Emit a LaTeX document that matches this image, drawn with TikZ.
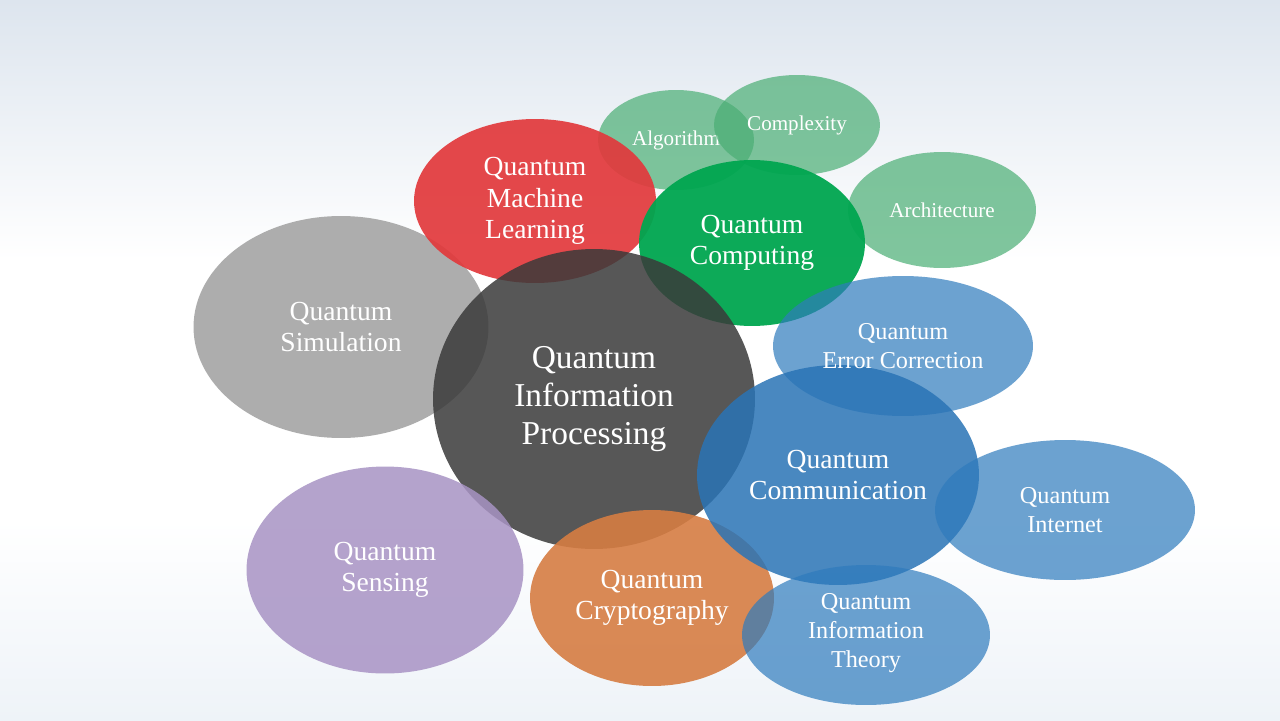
\documentclass[tikz,border=0pt]{standalone}
\usepackage{fontspec}
\setmainfont{Liberation Serif}
\usetikzlibrary{shapes.geometric}
\definecolor{bgtop}{HTML}{DDE5EE}
\definecolor{bgbot}{HTML}{EEF3F8}
\definecolor{cqip}{HTML}{3A3A3A}
\definecolor{csim}{HTML}{A9A9A9}
\definecolor{cqml}{HTML}{E2393C}
\definecolor{cqc}{HTML}{00A650}
\definecolor{clgreen}{HTML}{4AAE74}
\definecolor{clblue}{HTML}{2E7BBD}
\definecolor{ccomm}{HTML}{2A74B6}
\definecolor{ccryp}{HTML}{D67D43}
\definecolor{csens}{HTML}{A893C4}
\begin{document}
\begin{tikzpicture}[x=0.02cm,y=-0.02cm,
  bub/.style={ellipse, inner sep=0pt, text=white, align=center, text opacity=1},
  lbl/.style={inner sep=0pt, text=white, align=center},
  fbig/.style={font=\fontsize{19}{21.5}\selectfont},
  fmid/.style={font=\fontsize{15.7}{17.9}\selectfont},
  fsml/.style={font=\fontsize{13.8}{16.4}\selectfont},
  ftiny/.style={font=\fontsize{12}{14}\selectfont}]
\useasboundingbox (0,0) rectangle (1280,720);
\fill[white] (0,0) rectangle (1280,720);
\shade[top color=bgtop, bottom color=white] (0,0) rectangle (1280,260);
\shade[top color=white, bottom color=bgbot] (0,520) rectangle (1280,720);

% shapes
\node[bub, fill=csim, fill opacity=0.95, minimum width=5.90cm, minimum height=4.44cm] (sim) at (341,327) {};
\node[bub, ftiny, fill=clgreen, fill opacity=0.7, minimum width=3.12cm, minimum height=2.00cm] (alg) at (676,140) {Algorithm};
\node[bub, fill=clgreen, fill opacity=0.7, minimum width=3.32cm, minimum height=2.00cm] (cplx) at (797,125) {};
\node[bub, fill=clgreen, fill opacity=0.7, minimum width=3.76cm, minimum height=2.32cm] (arch) at (942,210) {};
\node[bub, fill=cqml, fill opacity=0.92, minimum width=4.84cm, minimum height=3.28cm] (qml) at (535,201) {};
\node[bub, fill=cqc, fill opacity=0.95, minimum width=4.52cm, minimum height=3.32cm] (qc) at (752,243) {};
\node[bub, fill=cqip, fill opacity=0.85, minimum width=6.44cm, minimum height=6.00cm] (qip) at (594,399) {};
\node[bub, fill=ccryp, fill opacity=0.9, minimum width=4.88cm, minimum height=3.52cm] (cryp) at (652,598) {};
\node[bub, fill=csens, fill opacity=0.85, minimum width=5.54cm, minimum height=4.14cm] (sens) at (385,570) {};
\node[bub, fill=clblue, fill opacity=0.7, minimum width=5.20cm, minimum height=2.80cm] (qec) at (903,346) {};
\node[bub, fill=ccomm, fill opacity=0.85, minimum width=5.64cm, minimum height=4.40cm] (comm) at (838,475) {};
\node[bub, fill=clblue, fill opacity=0.7, minimum width=5.20cm, minimum height=2.80cm] (inet) at (1065,510) {};
\node[bub, fill=clblue, fill opacity=0.7, minimum width=4.96cm, minimum height=2.80cm] (qit) at (866,635) {};

% labels
\node[lbl, fmid] (simt) at (sim.center) {Quantum\\Simulation};
\node[lbl, ftiny] (cplxt) at (cplx.center) {Complexity};
\node[lbl, ftiny] (archt) at (arch.center) {Architecture};
\node[lbl, fmid] (qmlt) at (qml.center) {Quantum\\Machine\\Learning};
\node[lbl, fmid] (qct) at (qc.center) {Quantum\\Computing};
\node[lbl, fbig] (qipt) at (qip.center) {Quantum\\Information\\Processing};
\node[lbl, fmid] (crypt) at (cryp.center) {Quantum\\Cryptography};
\node[lbl, fmid] (senst) at (sens.center) {Quantum\\Sensing};
\node[lbl, fsml] (qect) at (qec.center) {Quantum\\Error Correction};
\node[lbl, fmid] (commt) at (comm.center) {Quantum\\Communication};
\node[lbl, fsml] (inett) at (inet.center) {Quantum\\Internet};
\node[lbl, fsml] (qitt) at ([yshift=0.04cm]qit.center) {Quantum\\Information\\Theory};
\end{tikzpicture}
\end{document}
